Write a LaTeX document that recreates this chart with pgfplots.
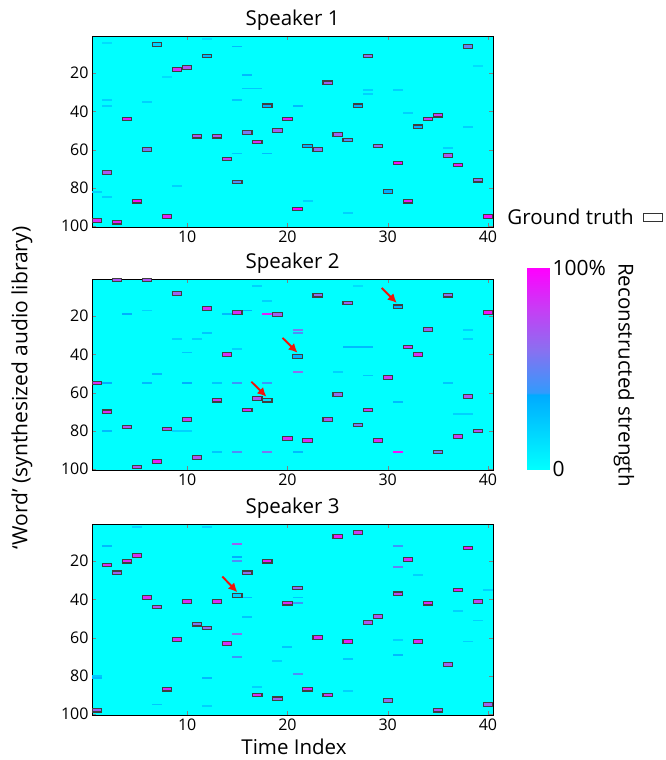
\documentclass[border=0pt]{standalone}
\usepackage{pgfplots}
\pgfplotsset{compat=1.18}
\usetikzlibrary{arrows.meta}
\usepackage{fontspec}
\setmainfont{Open Sans}
\definecolor{bgcyan}{RGB}{0,255,255}
\definecolor{arrowred}{RGB}{240,20,10}

% ground-truth box and plain reconstructed cell
\pgfdeclareplotmark{gtbox}{\pgfpathrectangle{\pgfpoint{-4.6pt}{-1.75pt}}{\pgfpoint{9.2pt}{3.5pt}}\pgfusepathqfillstroke}
\pgfdeclareplotmark{cell}{\pgfpathrectangle{\pgfpoint{-5pt}{-0.95pt}}{\pgfpoint{10pt}{1.9pt}}\pgfusepathqfill}

\tikzset{redarrow/.style={draw=arrowred, line width=1.9pt, -{Latex[length=9pt,width=9pt]}}}

\pgfplotsset{
  colormap={recon}{rgb255(0cm)=(0,255,255); rgb255(37cm)=(0,170,255); rgb255(38cm)=(50,155,252);
    rgb255(60cm)=(140,110,240); rgb255(80cm)=(200,60,245); rgb255(100cm)=(255,0,255)},
  spk/.style={
    width=401pt, height=191pt, scale only axis,
    xmin=0.5, xmax=40.5, ymin=0.5, ymax=100.5, y dir=reverse,
    xtick={10,20,30,40}, ytick={20,40,60,80,100},
    tick align=inside, major tick length=4pt,
    axis background/.style={fill=bgcyan},
    colormap name=recon, point meta min=0, point meta max=1,
    tick label style={font=\fontsize{16}{19}\selectfont},
    /pgf/number format/assume math mode=true,
    title style={font=\fontsize{20.5}{24}\selectfont, yshift=-4pt},
    axis on top, clip=true,
  },
  noise/.style={scatter, only marks, mark=cell, point meta=explicit,
    scatter/use mapped color={draw=none, fill=mapped color}},
  truth/.style={scatter, only marks, mark=gtbox, point meta=explicit,
    mark options={line width=1.1pt},
    scatter/use mapped color={draw=black!75, fill=mapped color}},
}

% ground truth, one word per time index: t word strength
\pgfplotstableread{
t y m
1 97 0.85
2 72 0.70
3 98 0.90
4 44 0.90
5 87 0.95
6 60 0.55
7 5 0.20
8 95 0.90
9 18 0.85
10 17 0.70
11 53 0.70
12 11 0.30
13 53 0.70
14 65 0.80
15 77 0.45
16 51 0.55
17 56 0.85
18 37 0.35
19 50 0.65
20 44 0.90
21 91 1.00
22 58 0.35
23 60 0.60
24 25 0.65
25 52 0.65
26 55 0.45
27 37 0.35
28 11 0.60
29 58 0.60
30 82 0.35
31 67 0.95
32 87 0.90
33 48 0.35
34 44 0.80
35 42 0.80
36 63 0.70
37 68 0.90
38 6 0.50
39 76 0.60
40 95 0.95
}\truthA

\pgfplotstableread{
t y m
1 55 0.85
2 70 0.85
3 1 0.70
4 78 0.70
5 99 0.70
6 1 0.70
7 96 0.90
8 79 0.75
9 8 0.65
10 74 0.80
11 94 0.70
12 16 0.85
13 64 0.80
14 40 0.85
15 18 0.85
16 69 0.85
17 63 0.70
18 64 0.15
19 19 0.65
20 84 0.85
21 41 0.35
22 85 0.85
23 9 0.60
24 74 0.70
25 61 0.60
26 13 0.65
27 77 0.55
28 69 0.80
29 85 0.85
30 52 0.80
31 15 0.35
32 36 0.80
33 40 0.85
34 27 0.65
35 91 0.55
36 9 0.60
37 83 0.80
38 62 0.70
39 80 0.70
40 18 0.95
}\truthB

\pgfplotstableread{
t y m
1 98 0.65
2 22 0.85
3 26 0.65
4 20 0.85
5 17 0.85
6 39 0.85
7 44 0.70
8 87 0.85
9 61 0.85
10 41 0.85
11 53 0.55
12 55 0.60
13 41 0.85
14 63 0.85
15 38 0.20
16 26 0.60
17 90 0.85
18 20 0.90
19 92 0.65
20 42 0.85
21 34 0.60
22 87 0.85
23 60 0.85
24 90 0.80
25 7 0.90
26 62 0.90
27 5 0.80
28 52 0.70
29 49 0.70
30 93 0.60
31 37 0.75
32 19 0.85
33 62 0.85
34 42 0.85
35 98 0.70
36 74 0.65
37 35 0.90
38 13 0.90
39 41 0.75
40 95 0.65
}\truthC

% reconstructed activity away from the ground truth
\pgfplotstableread{
t y m
2 4 0.15
15 6 0.30
16 21 0.30
16 28 0.25
17 28 0.25
15 34 0.25
2 34 0.20
2 37 0.20
6 35 0.20
21 37 0.30
18 62 0.30
15 62 0.25
28 29 0.20
28 31 0.20
31 29 0.20
32 41 0.20
1 82 0.20
2 85 0.20
9 79 0.20
38 48 0.20
36 59 0.20
22 87 0.20
26 93 0.20
12 2 0.15
39 16 0.15
8 22 0.15
}\noiseA

\pgfplotstableread{
t y m
18 19 0.90
21 27 0.55
21 29 0.45
21 49 0.60
18 55 0.40
15 55 0.40
10 55 0.35
2 55 0.35
6 55 0.30
13 55 0.25
31 91 0.95
18 91 0.55
15 91 0.45
21 91 0.30
13 91 0.25
4 19 0.35
14 19 0.30
16 17 0.35
7 50 0.30
12 29 0.25
9 32 0.20
11 32 0.20
10 39 0.25
26 36 0.30
27 36 0.30
28 36 0.30
28 51 0.25
2 80 0.30
9 80 0.20
10 80 0.20
31 65 0.30
36 55 0.25
37 71 0.20
38 71 0.20
38 27 0.20
38 32 0.20
17 4 0.20
27 4 0.15
25 49 0.20
18 12 0.20
15 37 0.20
6 17 0.20
}\noiseB

\pgfplotstableread{
t y m
15 11 0.65
15 18 0.35
15 20 0.45
15 58 0.60
15 70 0.40
16 39 0.30
16 49 0.25
31 23 0.50
31 12 0.40
31 69 0.30
21 79 0.45
21 42 0.40
21 39 0.25
20 65 0.25
12 81 0.30
1 81 0.30
1 80 0.25
2 12 0.30
7 95 0.25
5 2 0.20
12 2 0.20
26 71 0.25
26 88 0.20
31 61 0.20
39 51 0.20
40 35 0.20
38 62 0.20
33 27 0.20
37 46 0.20
17 86 0.20
12 96 0.20
19 72 0.20
}\noiseC

\begin{document}
\begin{tikzpicture}
\useasboundingbox (0,0) rectangle (665pt,-760pt);

\begin{axis}[spk, at={(92pt,-36pt)}, anchor=north west, title={Speaker 1}]
  \addplot[noise] table[meta=m] {\noiseA};
  \addplot[truth] table[meta=m] {\truthA};
\end{axis}

\begin{axis}[spk, at={(92pt,-279pt)}, anchor=north west, title={Speaker 2}]
  \addplot[noise] table[meta=m] {\noiseB};
  \addplot[truth] table[meta=m] {\truthB};
  \draw[redarrow] (axis cs:29.4,5.2) -- (axis cs:30.9,13.0);
  \draw[redarrow] (axis cs:19.5,31.3) -- (axis cs:21.0,39.1);
  \draw[redarrow] (axis cs:16.4,54.3) -- (axis cs:17.9,62.1);
\end{axis}

\begin{axis}[spk, at={(92pt,-524pt)}, anchor=north west, title={Speaker 3}]
  \addplot[noise] table[meta=m] {\noiseC};
  \addplot[truth] table[meta=m] {\truthC};
  \draw[redarrow] (axis cs:13.5,28.0) -- (axis cs:15.0,36.2);
\end{axis}

% colour scale of reconstructed strength
\begin{axis}[at={(527pt,-268pt)}, anchor=north west, scale only axis,
  width=22pt, height=201pt, xmin=0, xmax=1, ymin=0, ymax=1,
  axis line style={draw=none}, xtick=\empty,
  ytick={0,1}, yticklabels={0,100\%}, yticklabel pos=right,
  major tick length=0pt,
  yticklabel style={font=\fontsize{21}{25}\selectfont, xshift=0pt},
  colormap name=recon, point meta min=0, point meta max=1]
  \addplot[surf, shader=interp, mesh/cols=2, point meta=y]
    coordinates {(0,0) (1,0) (0,1) (1,1)};
\end{axis}

\node[font=\fontsize{20.5}{24}\selectfont, inner sep=0pt] at (294pt,-747pt) {Time Index};
\node[rotate=90, font=\fontsize{21}{25}\selectfont] at (22pt,-388pt) {`Word' (synthesized audio library)};
\node[rotate=-90, font=\fontsize{20.5}{24}\selectfont] at (624pt,-375pt) {Reconstructed strength};
\node[anchor=east, font=\fontsize{20.5}{24}\selectfont, inner sep=0pt] at (634pt,-217pt) {Ground truth};
\draw[line width=0.9pt, black!80, fill=white] (643pt,-213.5pt) rectangle (662pt,-221.5pt);
\end{tikzpicture}
\end{document}
